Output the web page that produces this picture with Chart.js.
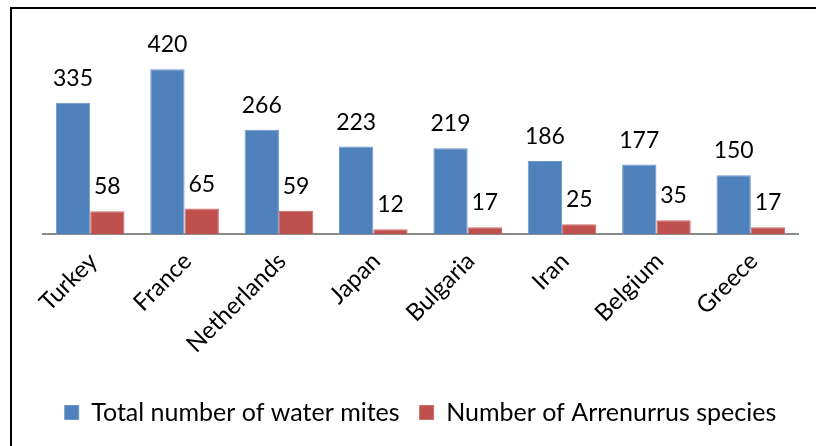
<!DOCTYPE html>
<html>
<head>
<meta charset="utf-8">
<script src="https://cdn.jsdelivr.net/npm/chart.js@4.4.1/dist/chart.umd.min.js"></script>
<style>
  html, body { margin: 0; padding: 0; background: #fff; overflow: hidden; }
  #wrap { position: relative; width: 816px; height: 446px; }
  #frame { position: absolute; left: 10px; top: 7px; width: 900px; height: 600px;
           border: 2px solid #000; box-sizing: border-box; pointer-events: none; }
  canvas { position: absolute; left: 0; top: 0; }
</style>
</head>
<body>
<div id="wrap">
  <canvas id="c" width="816" height="446"></canvas>
  <div id="frame"></div>
</div>
<script>
const countries = ['Turkey', 'France', 'Netherlands', 'Japan', 'Bulgaria', 'Iran', 'Belgium', 'Greece'];
const totalWaterMites = [335, 420, 266, 223, 219, 186, 177, 150];
const arrenurrusSpecies = [58, 65, 59, 12, 17, 25, 35, 17];
const seriesNames = ['Total number of water mites', 'Number of Arrenurrus species'];

const FONT = 'Lato, "Open Sans", sans-serif';

// Value labels drawn above each bar
const valueLabels = {
  id: 'valueLabels',
  afterDatasetsDraw(chart) {
    const ctx = chart.ctx;
    ctx.save();
    ctx.font = '23px ' + FONT;
    ctx.fillStyle = '#000';
    ctx.textAlign = 'center';
    ctx.textBaseline = 'alphabetic';
    chart.data.datasets.forEach((ds, di) => {
      chart.getDatasetMeta(di).data.forEach((bar, i) => {
        ctx.fillText(String(ds.data[i]), bar.x, bar.y - 17);
      });
    });
    ctx.restore();
  }
};

new Chart(document.getElementById('c'), {
  type: 'bar',
  data: {
    labels: countries,
    datasets: [
      { label: seriesNames[0], data: totalWaterMites, backgroundColor: '#4F81BD',
        borderColor: '#6F97C8', borderWidth: 1 },
      { label: seriesNames[1], data: arrenurrusSpecies, backgroundColor: '#C0504D',
        borderColor: '#CC6E6B', borderWidth: 1 }
    ]
  },
  options: {
    responsive: false,
    animation: false,
    events: [],
    layout: { padding: { left: 43, right: 18, top: 38, bottom: 11 } },
    datasets: { bar: { categoryPercentage: 0.727, barPercentage: 1.0 } },
    scales: {
      x: {
        grid: { display: false, drawTicks: false },
        border: { display: true, color: '#8a8a8a', width: 2 },
        ticks: {
          font: { family: FONT, size: 24 },
          color: '#000',
          maxRotation: 45, minRotation: 45,
          padding: 13,
          labelOffset: 3,
          autoSkip: false
        },
        afterFit(scale) { scale.height = 146; }
      },
      y: {
        display: false,
        min: 0, max: 500
      }
    },
    plugins: {
      legend: {
        position: 'bottom',
        labels: {
          font: { family: FONT, size: 25 },
          color: '#000',
          boxWidth: 14, boxHeight: 14,
          padding: 20
        }
      },
      tooltip: { enabled: false }
    }
  },
  plugins: [valueLabels]
});
</script>
</body>
</html>
